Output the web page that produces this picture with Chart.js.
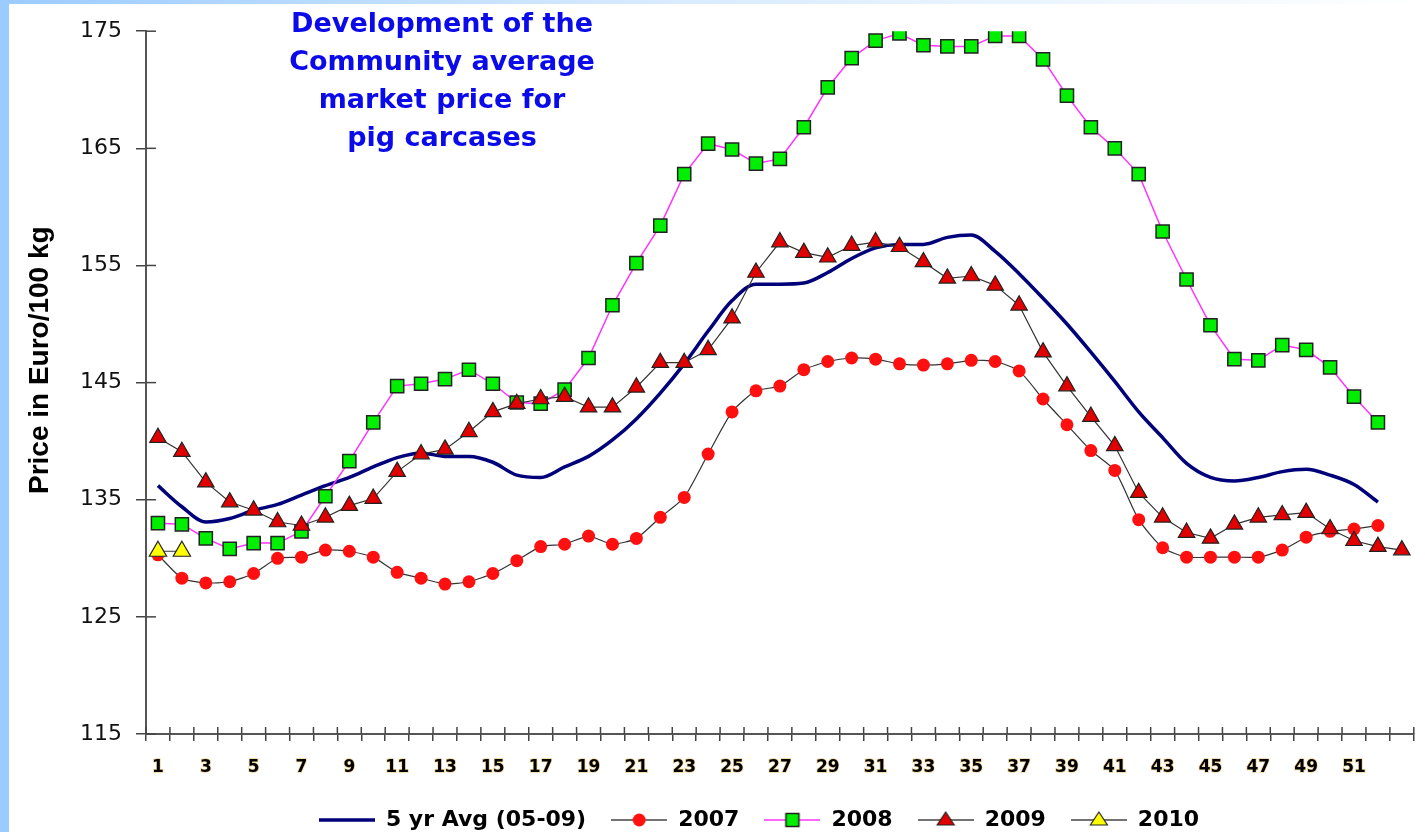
<!DOCTYPE html>
<html>
<head>
<meta charset="utf-8">
<script src="https://cdn.jsdelivr.net/npm/chart.js@4.4.1/dist/chart.umd.min.js"></script>
<style>
  html, body { margin: 0; padding: 0; overflow: hidden; background: #fff; }
  body { width: 1425px; height: 832px; position: relative; }
  #leftBar { position: absolute; left: 0; top: 0; width: 9px; height: 832px; background: #9ccbff; }
  #topBar { position: absolute; left: 0; top: 0; width: 1425px; height: 4px;
            background: linear-gradient(to right, #9ccbff, #d6eaff 45%, #ffffff); }
  #wrap { position: absolute; left: 9px; top: 4px; width: 1416px; height: 837px; }
</style>
</head>
<body>
<div id="leftBar"></div>
<div id="topBar"></div>
<div id="wrap"><canvas id="chart" width="1416" height="837"></canvas></div>
<script>
// week numbers on the x axis
const weeks = ['1','2','3','4','5','6','7','8','9','10','11','12','13','14','15','16','17','18','19','20',
  '21','22','23','24','25','26','27','28','29','30','31','32','33','34','35','36','37','38','39','40',
  '41','42','43','44','45','46','47','48','49','50','51','52','53'];

const yTicks = [115, 125, 135, 145, 155, 165, 175];

const seriesNames = ['5 yr Avg (05-09)', '2007', '2008', '2009', '2010'];

const avg5yr = [136.2,134.4,133.1,133.4,134.1,134.6,135.4,136.2,136.9,137.8,
  138.6,139.0,138.7,138.7,138.2,137.1,136.9,137.8,138.7,140.1,
  141.9,144.1,146.6,149.4,152.0,153.4,153.4,153.5,154.4,155.6,
  156.5,156.8,156.8,157.4,157.6,156.2,154.3,152.2,150.0,147.6,
  145.1,142.5,140.3,138.1,136.9,136.6,136.9,137.4,137.6,137.1,
  136.3,134.8];

const y2007 = [130.3,128.3,127.9,128.0,128.7,130.0,130.1,130.7,130.6,130.1,
  128.8,128.3,127.8,128.0,128.7,129.8,131.0,131.2,131.9,131.2,
  131.7,133.5,135.2,138.9,142.5,144.3,144.7,146.1,146.8,147.1,
  147.0,146.6,146.5,146.6,146.9,146.8,146.0,143.6,141.4,139.2,
  137.5,133.3,130.9,130.1,130.1,130.1,130.1,130.7,131.8,132.3,
  132.5,132.8];

const y2008 = [133.0,132.9,131.7,130.8,131.3,131.3,132.3,135.3,138.3,141.6,
  144.7,144.9,145.3,146.1,144.9,143.3,143.2,144.4,147.1,151.6,
  155.2,158.4,162.8,165.4,164.9,163.7,164.1,166.8,170.2,172.7,
  174.2,174.8,173.8,173.7,173.7,174.6,174.6,172.6,169.5,166.8,
  165.0,162.8,157.9,153.8,149.9,147.0,146.9,148.2,147.8,146.3,
  143.8,141.6];

const y2009 = [140.3,139.1,136.5,134.8,134.1,133.1,132.8,133.5,134.5,135.1,
  137.4,138.9,139.3,140.8,142.5,143.2,143.6,143.8,142.9,142.9,
  144.6,146.7,146.7,147.8,150.5,154.4,157.0,156.1,155.7,156.7,
  157.0,156.6,155.3,153.9,154.1,153.3,151.6,147.6,144.7,142.1,
  139.6,135.6,133.5,132.2,131.7,132.9,133.5,133.7,133.9,132.5,
  131.5,131.0,130.7];

const y2010 = [130.6, 130.6];

const titleLines = ['Development of the', 'Community average', 'market price for', 'pig carcases'];
const yTitle = 'Price in Euro/100 kg';

Chart.defaults.font.family = '"DejaVu Sans", sans-serif';

// small canvases used as legend symbols (line + marker)
function legendIcon(kind) {
  const c = document.createElement('canvas');
  c.width = 56; c.height = 22;
  const g = c.getContext('2d');
  const m = 11;
  g.beginPath();
  g.moveTo(0, m); g.lineTo(56, m);
  if (kind === 'avg') { g.strokeStyle = '#00007a'; g.lineWidth = 3.5; }
  else if (kind === 'sq') { g.strokeStyle = '#ff33ff'; g.lineWidth = 1.5; }
  else { g.strokeStyle = '#444'; g.lineWidth = 1.5; }
  g.stroke();
  if (kind === 'dot') {
    g.beginPath(); g.arc(28, m, 6.5, 0, Math.PI * 2);
    g.fillStyle = '#ff1010'; g.fill();
  } else if (kind === 'sq') {
    g.fillStyle = '#00ee00'; g.fillRect(21.5, m - 6.5, 13, 13);
    g.strokeStyle = '#222'; g.lineWidth = 1.5; g.strokeRect(21.5, m - 6.5, 13, 13);
  } else if (kind === 'tri' || kind === 'tri2') {
    g.beginPath();
    g.moveTo(28, m - 8); g.lineTo(36.5, m + 5); g.lineTo(19.5, m + 5); g.closePath();
    g.fillStyle = kind === 'tri' ? '#e00000' : '#ffff00'; g.fill();
    g.strokeStyle = '#222'; g.lineWidth = 1.2; g.stroke();
  }
  return c;
}
const icons = [legendIcon('avg'), legendIcon('dot'), legendIcon('sq'), legendIcon('tri'), legendIcon('tri2')];

// texts inside the plot + cross tick marks + legend shift
const extras = {
  id: 'extras',
  afterLayout(chart) {
    chart.legend.left += 90;
  },
  beforeDatasetsDraw(chart) {
    const { ctx, chartArea, scales: { x, y } } = chart;
    ctx.save();
    ctx.strokeStyle = '#444';
    ctx.lineWidth = 1.5;
    y.ticks.forEach(t => {
      const py = y.getPixelForValue(t.value);
      ctx.beginPath(); ctx.moveTo(chartArea.left, py); ctx.lineTo(chartArea.left + 10, py); ctx.stroke();
    });
    for (let i = 0; i <= weeks.length; i++) {
      const px = x.getPixelForValue(i - 0.5);
      ctx.beginPath(); ctx.moveTo(px, chartArea.bottom); ctx.lineTo(px, chartArea.bottom - 7); ctx.stroke();
    }
    ctx.restore();
  },
  afterDraw(chart) {
    const { ctx, chartArea } = chart;
    ctx.save();
    ctx.textAlign = 'center';
    ctx.textBaseline = 'middle';
    ctx.fillStyle = '#0b0bea';
    ctx.font = 'bold 27px "DejaVu Sans"';
    titleLines.forEach((t, i) => ctx.fillText(t, chartArea.left + 296, chartArea.top - 6 + i * 38));
    ctx.fillStyle = '#000';
    ctx.font = 'bold 28px "Liberation Sans"';
    ctx.translate(31, chartArea.top + 329);
    ctx.rotate(-Math.PI / 2);
    ctx.fillText(yTitle, 0, 0);
    ctx.restore();
  }
};

new Chart(document.getElementById('chart'), {
  type: 'line',
  data: {
    labels: weeks,
    datasets: [
      { label: seriesNames[0], data: avg5yr, borderColor: '#00007a', borderWidth: 3.5,
        pointRadius: 0, cubicInterpolationMode: 'monotone', order: 4 },
      { label: seriesNames[1], data: y2007, borderColor: '#333', borderWidth: 1.2, tension: 0.2,
        pointStyle: 'circle', pointRadius: 6.5, pointBackgroundColor: '#ff1010', pointBorderWidth: 0, order: 3 },
      { label: seriesNames[2], data: y2008, borderColor: '#ff33ff', borderWidth: 1.5,
        pointStyle: 'rect', pointRadius: 9.3, pointBackgroundColor: '#00ee00',
        pointBorderColor: '#222', pointBorderWidth: 1.5, order: 2 },
      { label: seriesNames[3], data: y2009, borderColor: '#333', borderWidth: 1.2,
        pointStyle: 'triangle', pointRadius: 9.5, pointBackgroundColor: '#e00000',
        pointBorderColor: '#222', pointBorderWidth: 1.2, order: 1 },
      { label: seriesNames[4], data: y2010, borderColor: '#333', borderWidth: 1.2,
        pointStyle: 'triangle', pointRadius: 10, pointBackgroundColor: '#ffff00',
        pointBorderColor: '#222', pointBorderWidth: 1.2, order: 0 }
    ]
  },
  options: {
    responsive: false,
    animation: false,
    devicePixelRatio: 1,
    layout: { padding: { top: 25, right: 6, bottom: 0, left: 0 } },
    plugins: {
      tooltip: { enabled: false },
      legend: {
        position: 'bottom',
        labels: {
          usePointStyle: true,
          pointStyleWidth: 56,
          padding: 25,
          color: '#000',
          font: { size: 22, weight: 'bold' },
          generateLabels: chart => seriesNames.map((name, i) => ({
            text: name, pointStyle: icons[i], datasetIndex: i, hidden: false,
            lineWidth: 0, strokeStyle: 'transparent', fillStyle: 'transparent', fontColor: '#000'
          }))
        }
      }
    },
    scales: {
      x: {
        type: 'category',
        offset: true,
        border: { display: true, color: '#555', width: 2 },
        grid: { offset: true, drawOnChartArea: false, tickLength: 7, color: '#444', lineWidth: 1.5 },
        ticks: {
          autoSkip: false, maxRotation: 0, padding: 16, color: '#000',
          font: { size: 17, weight: 'bold' },
          textStrokeColor: 'rgba(225,160,20,0.45)', textStrokeWidth: 1.5,
          callback: (v, i) => (i % 2 === 0 && i < 52) ? weeks[i] : ''
        },
        afterFit: s => { s.height = 50; }
      },
      y: {
        min: 115, max: 175,
        border: { display: true, color: '#555', width: 2 },
        grid: { drawOnChartArea: false, tickLength: 10, color: '#444', lineWidth: 1.5 },
        afterBuildTicks: s => { s.ticks = yTicks.map(v => ({ value: v })); },
        ticks: { padding: 14, color: '#111', font: { size: 22 } },
        afterFit: s => { s.width = 137; }
      }
    }
  },
  plugins: [extras]
});
</script>
</body>
</html>
